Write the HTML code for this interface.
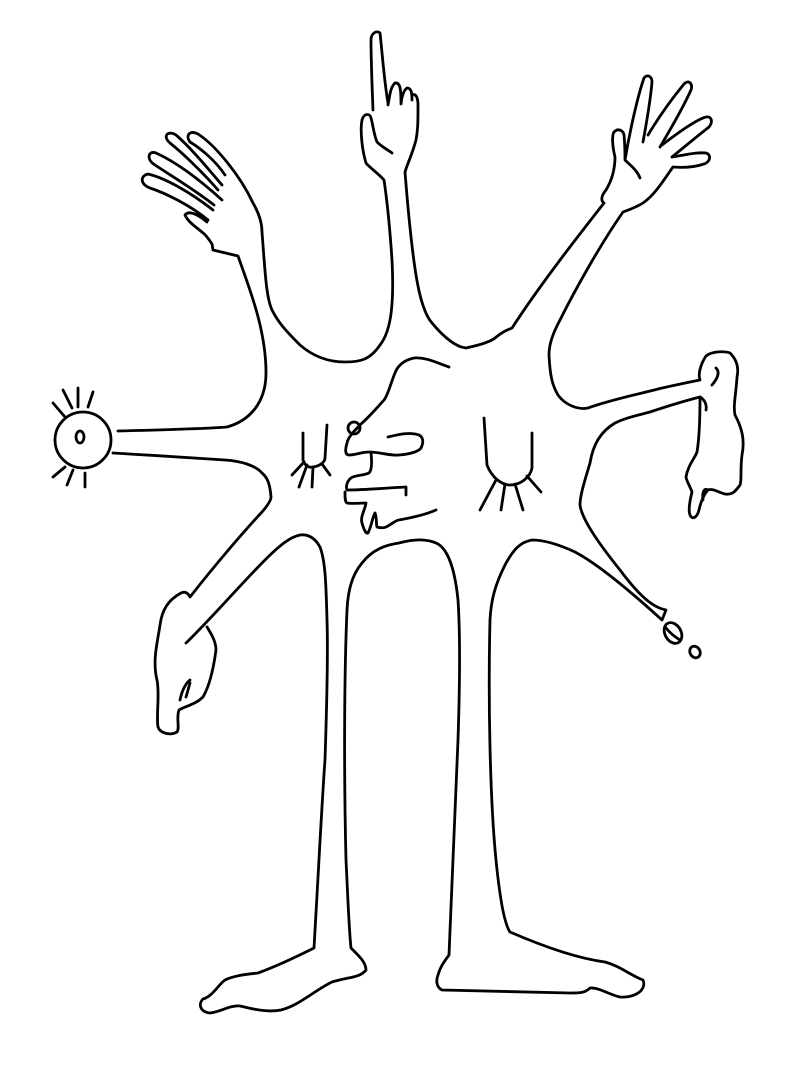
<!DOCTYPE html>
<html><head><meta charset="utf-8"><title>Figure drawing</title>
<style>html,body{margin:0;padding:0;background:#fff}svg{display:block}</style></head>
<body>
<svg width="809" height="1080" viewBox="0 0 809 1080" xmlns="http://www.w3.org/2000/svg">
<rect width="809" height="1080" fill="#fff"/>
<g fill="none" stroke="#000" stroke-width="2.8" stroke-linejoin="round" stroke-linecap="round">
<path d="
M118,431 C160,430 200,429 227,427 C252,420 266,400 266,373 C266,330 250,290 238,256
L213,250 L212,244 C208,238 205,234 203,233 C195,226 188,222 185,215 C188,211 195,212 207,222
M208,220 C190,205 165,193 150,188 C140,184 140,176 148,174 C165,178 190,192 213,210
M214,205 C195,190 170,175 155,165 C146,160 148,150 156,153 C178,163 200,180 222,200
M218,190 C205,175 185,155 170,143 C162,136 168,130 176,135 C190,147 205,165 222,185
M225,175 C215,160 200,148 190,142 C185,135 190,130 198,134 C215,145 240,175 253,203 C260,215 262,225 262,232
C265,270 266,297 272,310 C278,322 285,330 300,345 C315,358 330,362 345,362 C360,362 370,360 380,345 C392,330 394,300 392,260 C390,230 387,200 384,180
C378,173 370,168 366,163 C362,150 360,130 362,120 C364,113 370,113 371,118 C373,125 374,135 377,142 C382,147 388,150 392,153
M373,110 C372,85 371,60 371,40 C371,33 377,30 380,33 C382,50 384,80 388,103
M388,105 C390,95 390,88 395,83 C400,82 401,88 401,104
M401,104 C402,95 404,90 407,88 C411,88 412,92 412,100
M412,95 C416,93 418,98 418,105 C418,120 418,130 416,140 C412,155 408,162 405,172
C408,210 412,250 416,275 C420,300 425,315 432,323 C442,335 455,347 466,348 C480,345 490,342 495,338 C502,332 507,330 512,328 C540,285 575,240 604,203
C600,200 602,195 606,190 C612,180 615,170 615,157 C612,145 612,135 614,132 C618,128 623,130 624,135 C625,145 625,155 625,160 C630,165 637,170 640,178
M625,160 C630,130 638,95 644,78 C647,74 652,76 652,82 C650,105 646,125 643,142
M648,135 C660,115 675,95 684,84 C689,79 693,84 691,90 C682,110 670,130 660,147
M662,145 C675,135 695,120 706,117 C712,116 713,122 709,127 C695,138 683,148 672,157
M672,157 C685,155 697,152 706,153 C712,155 710,162 704,164 C695,167 685,168 673,167 C665,178 655,195 643,203 C635,208 628,210 623,212
C600,245 575,290 560,320 C552,335 549,345 549,355 C550,375 552,385 558,395 C565,405 578,410 588,408 C610,400 635,395 658,389 C675,385 690,382 700,380
C698,375 700,365 706,356 C712,351 725,351 730,353 C737,360 739,368 737,377 C736,395 733,405 735,415 C742,428 745,440 742,455 C740,470 742,480 740,485 C735,492 732,495 725,494 C718,492 712,488 708,490 C703,495 700,505 699,510 C697,518 692,520 690,515 C688,510 690,500 692,492 C690,486 686,480 686,477 C688,465 695,458 697,452 C699,440 700,420 700,397
C680,402 665,407 650,412 C635,416 625,418 615,423 C600,432 593,445 590,463 C585,480 580,495 580,505 C582,520 600,545 620,570 C635,590 650,607 666,610 L662,620
C640,600 600,565 575,552 C560,545 545,540 532,540 C520,542 513,550 505,565 C495,585 491,600 490,620 C488,700 490,800 496,860 C500,900 505,925 510,932
C540,945 575,958 605,962 C620,966 630,975 643,980 C647,990 635,998 620,997 C610,995 598,987 590,988 C585,993 580,993 570,993 L442,990 C436,987 436,980 438,975 C440,967 444,962 449,955
C452,880 456,800 458,740 C460,680 460,630 458,600 C455,570 448,548 436,543 C425,538 410,540 399,543 C385,545 372,550 362,563 C352,575 348,590 347,610 C344,680 344,780 346,860 C348,900 349,930 351,948
C358,955 366,962 366,970 C360,978 348,977 332,982 C315,990 300,1005 281,1010 C265,1013 250,1008 240,1006 C230,1005 220,1012 210,1013 C200,1012 198,1004 203,999 C212,997 218,985 225,980 C235,975 250,974 258,973 C280,965 300,955 314,948
C318,880 322,800 325,760 C327,700 328,650 327,620 C326,580 325,560 320,547 C315,538 308,534 300,535 C290,537 280,545 265,560 C240,585 210,620 186,643
M207,627 C212,635 216,642 216,650 C214,665 210,685 203,697 C195,705 185,706 179,710 C176,718 180,728 177,732 C170,736 160,733 158,727 C156,715 160,695 157,680 C152,660 158,640 160,625 C162,610 168,600 181,593 C185,591 188,593 190,597
C215,565 245,530 262,512 C268,505 271,500 271,497 C270,485 268,478 262,473 C255,465 240,461 225,460 C190,458 150,455 113,453
"/>
<g>
<circle cx="83" cy="440" r="28"/>
<ellipse cx="80" cy="437" rx="4" ry="6"/>
<path d="M53,403 L65,417 M63,390 L72,408 M78,388 L78,407 M93,392 L88,407 M53,477 L65,467 M67,485 L73,470 M85,487 L85,473"/>
</g>
<g>
<path d="M449,367 C435,362 425,357 414,358 C405,360 398,365 395,373 C390,385 388,395 384,400 C375,410 368,418 362,423 C355,430 348,437 347,443 C345,450 345,455 349,455 C355,455 362,452 369,452 C380,452 390,456 399,455 C410,454 418,452 421,448 C424,442 423,437 419,435 C410,432 400,434 388,437"/>
<circle cx="354" cy="428" r="6"/>
<path d="M371,453 C372,462 372,470 369,473 C362,476 355,475 351,478 C346,482 346,488 347,490 C365,490 385,488 406,487 L406,495"/>
<path d="M345,492 C345,498 345,502 347,503 C352,504 360,503 366,503 C365,510 360,517 362,523 C364,530 366,534 368,533 C372,525 372,518 375,513 C377,518 376,524 377,527 C380,528 384,528 386,527 C392,524 396,520 399,520 C410,518 425,515 436,510"/>
</g>
<g>
<path d="M303,433 L303,460 C305,466 309,468 313,467 C320,466 325,462 325,458 L327,425"/>
<path d="M304,462 L292,475 M307,465 L299,487 M313,467 L312,487 M322,464 L330,475"/>
</g>
<g>
<path d="M484,418 L487,465 C492,478 502,485 510,485 C520,485 530,478 532,468 L532,433"/>
<path d="M496,480 L480,510 M505,484 L501,510 M515,484 L523,510 M527,476 L541,492"/>
</g>
<g>
<ellipse cx="673" cy="633" rx="8" ry="11" transform="rotate(-30 673 633)"/>
<path d="M666,628 C670,633 675,637 680,640"/>
<ellipse cx="695" cy="652" rx="5" ry="6" transform="rotate(-30 695 652)"/>
</g>
<path d="M712,385 C718,378 720,372 716,368 M700,397 C705,400 707,405 706,410 M703,500 C702,492 704,488 708,490"/>
<path d="M180,700 C182,690 186,683 190,680 M186,697 L190,683"/>
</g>
</svg>
</body></html>
